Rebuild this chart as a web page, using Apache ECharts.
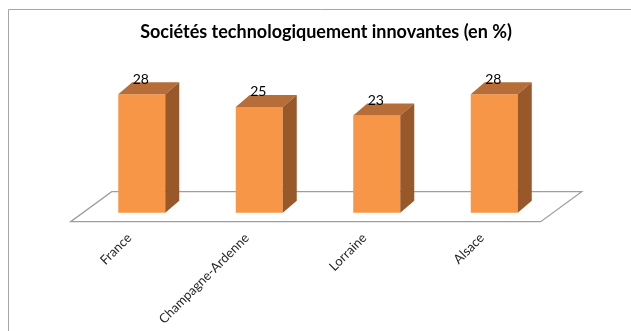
<!DOCTYPE html>
<html>
<head>
<meta charset="utf-8">
<script src="https://cdn.jsdelivr.net/npm/echarts@6/dist/echarts.min.js"></script>
<style>
  html, body { margin: 0; padding: 0; background: #ffffff; }
  #chart { width: 631px; height: 331px; }
</style>
</head>
<body>
<div id="chart"></div>
<script>
// Chart content
const titleText = 'Sociétés technologiquement innovantes (en %)';
const categories = ['France', 'Champagne-Ardenne', 'Lorraine', 'Alsace'];
const values = [28, 25, 23, 28];
const valueMax = 30;

// Pseudo-3D styling
const FONT = 'Lato, "Liberation Sans", sans-serif';
const FLOOR_DX = 41, FLOOR_DY = -30;     // depth of the floor plane
const BAR_SHIFT_X = 12.3, BAR_SHIFT_Y = -9; // bars stand in the middle of the floor
const BAR_DX = 14, BAR_DY = -12;          // depth of each bar
const COLOR_FRONT = '#F79646';
const COLOR_TOP = '#B66D37';
const COLOR_SIDE = '#98582A';

const chart = echarts.init(document.getElementById('chart'), null, { renderer: 'canvas' });

function renderFloor(params, api) {
  const cs = params.coordSys;
  const yb = cs.y + cs.height;
  return {
    type: 'polygon',
    z2: 0,
    shape: {
      points: [
        [cs.x, yb],
        [cs.x + cs.width, yb],
        [cs.x + cs.width + FLOOR_DX, yb + FLOOR_DY],
        [cs.x + FLOOR_DX, yb + FLOOR_DY]
      ]
    },
    style: { fill: '#ffffff', stroke: '#9E9E9E', lineWidth: 1.3 }
  };
}

function renderBar(params, api) {
  const i = api.value(0);
  const v = api.value(1);
  const base = api.coord([i, 0]);
  const top = api.coord([i, v]);
  const w = api.size([1, 0])[0] * 0.4;
  const cx = base[0] + BAR_SHIFT_X;
  const y0 = base[1] + BAR_SHIFT_Y;
  const y1 = top[1] + BAR_SHIFT_Y;
  const x0 = cx - w / 2;
  const x1 = cx + w / 2;
  return {
    type: 'group',
    children: [
      {
        type: 'rect',
        shape: { x: x0, y: y1, width: w, height: y0 - y1 },
        style: { fill: COLOR_FRONT }
      },
      {
        type: 'polygon',
        shape: { points: [[x0, y1], [x1, y1], [x1 + BAR_DX, y1 + BAR_DY], [x0 + BAR_DX, y1 + BAR_DY]] },
        style: { fill: COLOR_TOP }
      },
      {
        type: 'polygon',
        shape: { points: [[x1, y1], [x1 + BAR_DX, y1 + BAR_DY], [x1 + BAR_DX, y0 + BAR_DY], [x1, y0]] },
        style: { fill: COLOR_SIDE }
      },
      {
        type: 'text',
        style: {
          x: cx - 1,
          y: y1 - 15,
          text: String(v),
          align: 'center',
          verticalAlign: 'middle',
          fill: '#000000',
          font: '14px ' + FONT
        }
      }
    ]
  };
}

chart.setOption({
  backgroundColor: '#ffffff',
  animation: false,
  graphic: [
    {
      type: 'rect',
      shape: { x: 8.5, y: 9.5, width: 700, height: 400 },
      style: { fill: 'none', stroke: '#A6A6A6', lineWidth: 1 },
      silent: true
    },
    {
      type: 'text',
      x: 326,
      y: 32,
      style: {
        text: titleText,
        align: 'center',
        verticalAlign: 'middle',
        fill: '#000000',
        font: 'bold 18px ' + FONT
      }
    }
  ],
  grid: { left: 70.7, right: 90.3, top: 94.8, bottom: 109.3, containLabel: false },
  xAxis: {
    type: 'category',
    data: categories,
    axisLine: { show: false },
    axisTick: { show: false },
    splitLine: { show: false },
    axisLabel: {
      rotate: 45,
      margin: 14,
      fontSize: 13,
      fontFamily: FONT,
      color: '#262626',
      interval: 0
    }
  },
  yAxis: {
    type: 'value',
    min: 0,
    max: valueMax,
    show: false
  },
  series: [
    {
      type: 'custom',
      name: 'floor',
      data: [[0, 0]],
      renderItem: renderFloor,
      silent: true,
      z: 1
    },
    {
      type: 'custom',
      name: 'bars',
      data: values.map((v, i) => [i, v]),
      renderItem: renderBar,
      z: 2
    }
  ]
});
</script>
</body>
</html>
